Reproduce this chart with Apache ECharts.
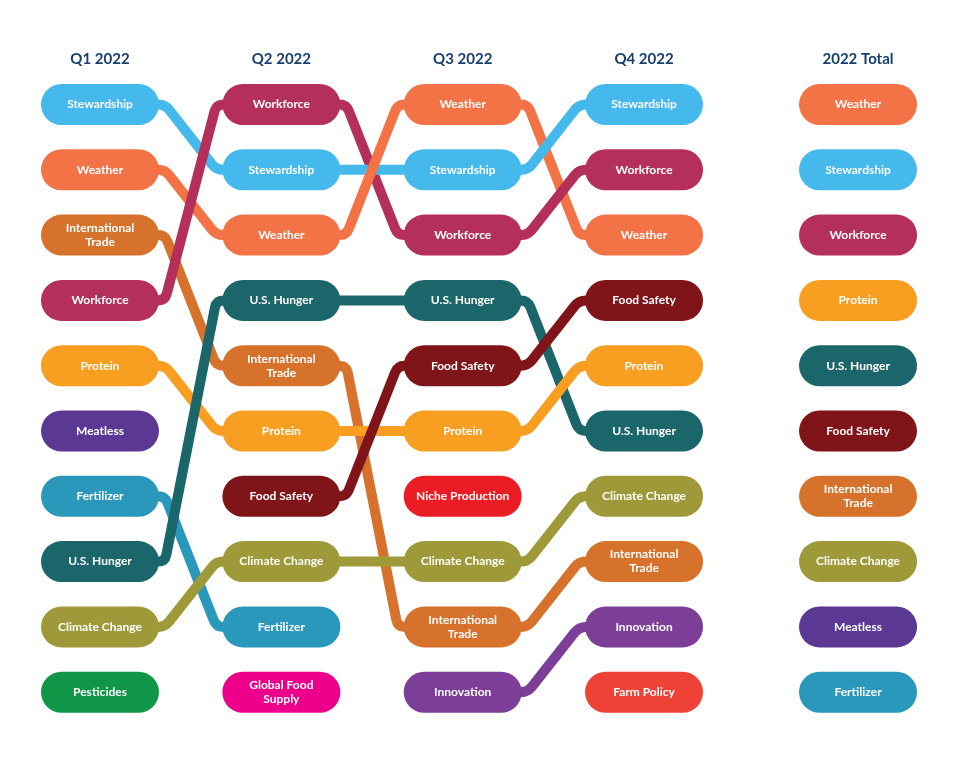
<!DOCTYPE html>
<html>
<head>
<meta charset="utf-8">
<script src="https://cdn.jsdelivr.net/npm/echarts@6/dist/echarts.min.js"></script>
<style>
  html, body { margin: 0; padding: 0; background: #ffffff; }
  #chart { width: 959px; height: 766px; }
</style>
</head>
<body>
<div id="chart"></div>
<script>
// ---- Data ----
const columns = ['Q1 2022', 'Q2 2022', 'Q3 2022', 'Q4 2022', '2022 Total'];
const q1Ranking = ['Stewardship', 'Weather', 'International Trade', 'Workforce', 'Protein', 'Meatless', 'Fertilizer', 'U.S. Hunger', 'Climate Change', 'Pesticides'];
const q2Ranking = ['Workforce', 'Stewardship', 'Weather', 'U.S. Hunger', 'International Trade', 'Protein', 'Food Safety', 'Climate Change', 'Fertilizer', 'Global Food Supply'];
const q3Ranking = ['Weather', 'Stewardship', 'Workforce', 'U.S. Hunger', 'Food Safety', 'Protein', 'Niche Production', 'Climate Change', 'International Trade', 'Innovation'];
const q4Ranking = ['Stewardship', 'Workforce', 'Weather', 'Food Safety', 'Protein', 'U.S. Hunger', 'Climate Change', 'International Trade', 'Innovation', 'Farm Policy'];
const totalRanking = ['Weather', 'Stewardship', 'Workforce', 'Protein', 'U.S. Hunger', 'Food Safety', 'International Trade', 'Climate Change', 'Meatless', 'Fertilizer'];
const rankings = [q1Ranking, q2Ranking, q3Ranking, q4Ranking, totalRanking];
// quarters that are connected by lines (Q1..Q4)
const linkedColumns = 4;

// ---- Styles / layout ----
const topicColors = {
  'Stewardship': '#45b9eb',
  'Weather': '#f47346',
  'International Trade': '#d6722b',
  'Workforce': '#b52f5b',
  'Protein': '#f89f22',
  'Meatless': '#5a3894',
  'Fertilizer': '#2998bb',
  'U.S. Hunger': '#1b666a',
  'Climate Change': '#9e9a39',
  'Pesticides': '#0f9647',
  'Food Safety': '#7f1519',
  'Global Food Supply': '#ec008b',
  'Niche Production': '#ec1c24',
  'Innovation': '#7d3e98',
  'Farm Policy': '#ef4237'
};
const labelBreaks = {
  'International Trade': 'International\nTrade',
  'Global Food Supply': 'Global Food\nSupply'
};
const colX = [0, 1, 2, 3, 4.18];
const headerY = 0.3;
const pillW = 118, pillH = 41, linkW = 10;
const fontFamily = 'Lato, "Open Sans", sans-serif';

// ---- Build series data ----
const nodeData = [];
rankings.forEach((list, c) => {
  list.forEach((name, i) => nodeData.push([colX[c], i + 1, name]));
});
const headerData = columns.map((name, c) => [colX[c], headerY, name]);
const linkData = [];
for (let c = 0; c < linkedColumns - 1; c++) {
  rankings[c].forEach((name, i) => {
    const j = rankings[c + 1].indexOf(name);
    if (j >= 0) linkData.push([colX[c], i + 1, colX[c + 1], j + 1, name]);
  });
}

function linkPath(p, q) {
  const hw = pillW / 2;
  const sx = p[0] + hw - 14, ex = q[0] - hw + 14;
  const c1 = [p[0] + hw + 6, p[1]];
  const c2 = [q[0] - hw - 6, q[1]];
  const dx = c2[0] - c1[0], dy = c2[1] - c1[1];
  const len = Math.sqrt(dx * dx + dy * dy) || 1;
  const ux = dx / len, uy = dy / len;
  const k = Math.abs(dy) < 0.5 ? 0 : 7;
  let d = 'M' + sx + ' ' + p[1];
  d += ' L' + (c1[0] - k) + ' ' + c1[1];
  d += ' Q' + c1[0] + ' ' + c1[1] + ' ' + (c1[0] + k * ux) + ' ' + (c1[1] + k * uy);
  d += ' L' + (c2[0] - k * ux) + ' ' + (c2[1] - k * uy);
  d += ' Q' + c2[0] + ' ' + c2[1] + ' ' + (c2[0] + k) + ' ' + c2[1];
  d += ' L' + ex + ' ' + q[1];
  return d;
}

const chart = echarts.init(document.getElementById('chart'), null, { renderer: 'canvas' });
chart.setOption({
  backgroundColor: '#ffffff',
  animation: false,
  grid: { left: 9.33, right: 6.67, top: 39.2, bottom: 8.5 },
  xAxis: { type: 'value', min: -0.5, max: 4.7, show: false },
  yAxis: { type: 'value', min: 0, max: 11, inverse: true, show: false },
  series: [
    {
      type: 'custom',
      name: 'links',
      z: 1,
      data: linkData,
      renderItem: function (params, api) {
        const p = api.coord([api.value(0), api.value(1)]);
        const q = api.coord([api.value(2), api.value(3)]);
        const name = linkData[params.dataIndex][4];
        return {
          type: 'path',
          shape: { pathData: linkPath(p, q) },
          style: {
            fill: 'none',
            stroke: topicColors[name],
            lineWidth: linkW,
            lineJoin: 'round',
            lineCap: 'round'
          }
        };
      }
    },
    {
      type: 'custom',
      name: 'nodes',
      z: 3,
      data: nodeData,
      renderItem: function (params, api) {
        const p = api.coord([api.value(0), api.value(1)]);
        const name = nodeData[params.dataIndex][2];
        return {
          type: 'group',
          children: [
            {
              type: 'rect',
              shape: { x: p[0] - pillW / 2, y: p[1] - pillH / 2, width: pillW, height: pillH, r: pillH / 2 },
              style: { fill: topicColors[name] }
            },
            {
              type: 'text',
              x: p[0],
              y: p[1],
              style: {
                text: labelBreaks[name] || name,
                fill: '#ffffff',
                font: 'bold 12px ' + fontFamily,
                align: 'center',
                verticalAlign: 'middle',
                lineHeight: 14
              }
            }
          ]
        };
      }
    },
    {
      type: 'custom',
      name: 'headers',
      z: 3,
      data: headerData,
      renderItem: function (params, api) {
        const p = api.coord([api.value(0), api.value(1)]);
        return {
          type: 'text',
          x: p[0],
          y: p[1],
          style: {
            text: headerData[params.dataIndex][2],
            fill: '#173f6e',
            font: 'bold 15px ' + fontFamily,
            align: 'center',
            verticalAlign: 'middle'
          }
        };
      }
    }
  ]
});
</script>
</body>
</html>
